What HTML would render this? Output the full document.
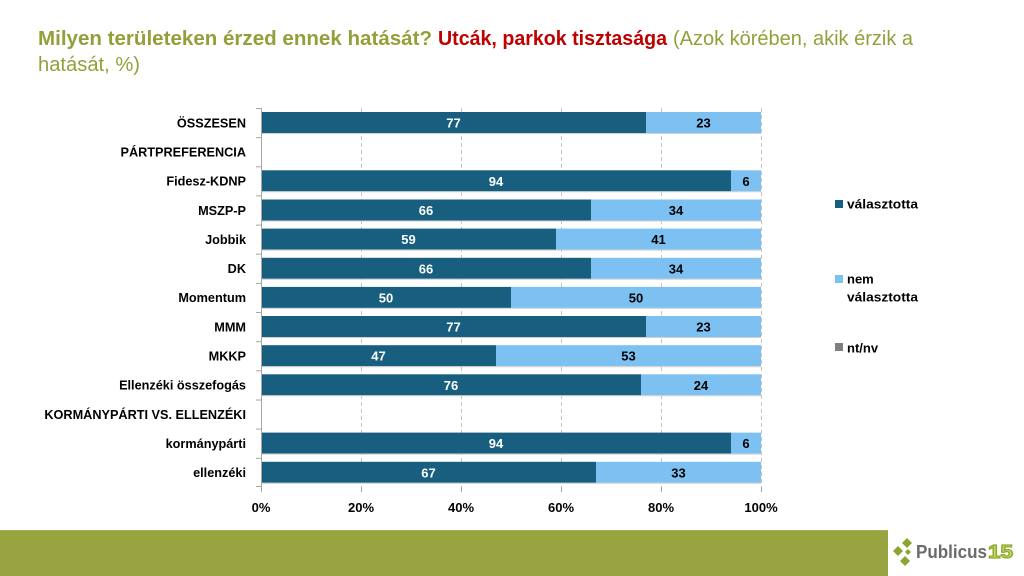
<!DOCTYPE html>
<html><head><meta charset="utf-8"><style>
html,body{margin:0;padding:0;background:#fff;}
svg{display:block;}
text{font-family:"Liberation Sans",sans-serif;}
</style></head><body>
<svg width="1024" height="576" viewBox="0 0 1024 576" xmlns="http://www.w3.org/2000/svg">
<!-- Title -->
<text x="38" y="45" font-size="20" font-weight="bold" fill="#93a03a" textLength="394" lengthAdjust="spacingAndGlyphs">Milyen területeken érzed ennek hatását?</text>
<text x="438" y="45" font-size="20" font-weight="bold" fill="#c00000" textLength="229" lengthAdjust="spacingAndGlyphs">Utcák, parkok tisztasága</text>
<text x="673" y="45" font-size="20" fill="#93a03a" textLength="240" lengthAdjust="spacingAndGlyphs">(Azok körében, akik érzik a</text>
<text x="38" y="71" font-size="20" fill="#93a03a" textLength="102" lengthAdjust="spacingAndGlyphs">hatását, %)</text>

<!-- gridlines -->
<g stroke="#c4c4c4" stroke-width="1" stroke-dasharray="4,3">
<line x1="361.5" y1="108" x2="361.5" y2="487"/>
<line x1="461.5" y1="108" x2="461.5" y2="487"/>
<line x1="561.5" y1="108" x2="561.5" y2="487"/>
<line x1="661.5" y1="108" x2="661.5" y2="487"/>
<line x1="761.5" y1="108" x2="761.5" y2="487"/>
</g>
<!-- bottom ticks -->
<g stroke="#a6a6a6" stroke-width="1">
<line x1="261.5" y1="487" x2="261.5" y2="492"/>
<line x1="361.5" y1="487" x2="361.5" y2="492"/>
<line x1="461.5" y1="487" x2="461.5" y2="492"/>
<line x1="561.5" y1="487" x2="561.5" y2="492"/>
<line x1="661.5" y1="487" x2="661.5" y2="492"/>
<line x1="761.5" y1="487" x2="761.5" y2="492"/>
</g>

<!-- bars -->
<g>
<rect x="261" y="112" width="385" height="21" fill="#175e7f"/><rect x="646" y="112" width="115" height="21" fill="#7cc1f2"/>
<rect x="261" y="170.3" width="470" height="21" fill="#175e7f"/><rect x="731" y="170.3" width="30" height="21" fill="#7cc1f2"/>
<rect x="261" y="199.5" width="330" height="21" fill="#175e7f"/><rect x="591" y="199.5" width="170" height="21" fill="#7cc1f2"/>
<rect x="261" y="228.6" width="295" height="21" fill="#175e7f"/><rect x="556" y="228.6" width="205" height="21" fill="#7cc1f2"/>
<rect x="261" y="257.8" width="330" height="21" fill="#175e7f"/><rect x="591" y="257.8" width="170" height="21" fill="#7cc1f2"/>
<rect x="261" y="286.9" width="250" height="21" fill="#175e7f"/><rect x="511" y="286.9" width="250" height="21" fill="#7cc1f2"/>
<rect x="261" y="316" width="385" height="21" fill="#175e7f"/><rect x="646" y="316" width="115" height="21" fill="#7cc1f2"/>
<rect x="261" y="345.2" width="235" height="21" fill="#175e7f"/><rect x="496" y="345.2" width="265" height="21" fill="#7cc1f2"/>
<rect x="261" y="374.3" width="380" height="21" fill="#175e7f"/><rect x="641" y="374.3" width="120" height="21" fill="#7cc1f2"/>
<rect x="261" y="432.6" width="470" height="21" fill="#175e7f"/><rect x="731" y="432.6" width="30" height="21" fill="#7cc1f2"/>
<rect x="261" y="461.8" width="335" height="21" fill="#175e7f"/><rect x="596" y="461.8" width="165" height="21" fill="#7cc1f2"/>
</g>
<!-- bar bottom shadow lines -->
<g stroke="#d0d0d0" stroke-width="1">
<line x1="261" y1="133.5" x2="761" y2="133.5"/>
<line x1="261" y1="191.8" x2="761" y2="191.8"/>
<line x1="261" y1="221" x2="761" y2="221"/>
<line x1="261" y1="250.1" x2="761" y2="250.1"/>
<line x1="261" y1="279.3" x2="761" y2="279.3"/>
<line x1="261" y1="308.4" x2="761" y2="308.4"/>
<line x1="261" y1="337.5" x2="761" y2="337.5"/>
<line x1="261" y1="366.7" x2="761" y2="366.7"/>
<line x1="261" y1="395.8" x2="761" y2="395.8"/>
<line x1="261" y1="454.1" x2="761" y2="454.1"/>
<line x1="261" y1="483.3" x2="761" y2="483.3"/>
</g>

<!-- left axis -->
<g stroke="#a6a6a6" stroke-width="1">
<line x1="261.5" y1="108" x2="261.5" y2="487"/>
<line x1="256" y1="108.5" x2="261" y2="108.5"/>
<line x1="256" y1="137.6" x2="261" y2="137.6"/>
<line x1="256" y1="166.8" x2="261" y2="166.8"/>
<line x1="256" y1="195.9" x2="261" y2="195.9"/>
<line x1="256" y1="225.1" x2="261" y2="225.1"/>
<line x1="256" y1="254.2" x2="261" y2="254.2"/>
<line x1="256" y1="283.4" x2="261" y2="283.4"/>
<line x1="256" y1="312.5" x2="261" y2="312.5"/>
<line x1="256" y1="341.7" x2="261" y2="341.7"/>
<line x1="256" y1="370.8" x2="261" y2="370.8"/>
<line x1="256" y1="400" x2="261" y2="400"/>
<line x1="256" y1="429.1" x2="261" y2="429.1"/>
<line x1="256" y1="458.3" x2="261" y2="458.3"/>
<line x1="256" y1="486.5" x2="261" y2="486.5"/>
</g>

<!-- value labels -->
<g font-size="13" font-weight="bold" text-anchor="middle">
<text x="453.5" y="127.5" fill="#fff">77</text><text x="703.5" y="127.5" fill="#000">23</text>
<text x="496" y="185.8" fill="#fff">94</text><text x="746" y="185.8" fill="#000">6</text>
<text x="426" y="215" fill="#fff">66</text><text x="676" y="215" fill="#000">34</text>
<text x="408.5" y="244.1" fill="#fff">59</text><text x="658.5" y="244.1" fill="#000">41</text>
<text x="426" y="273.3" fill="#fff">66</text><text x="676" y="273.3" fill="#000">34</text>
<text x="386" y="302.4" fill="#fff">50</text><text x="636" y="302.4" fill="#000">50</text>
<text x="453.5" y="331.5" fill="#fff">77</text><text x="703.5" y="331.5" fill="#000">23</text>
<text x="378.5" y="360.7" fill="#fff">47</text><text x="628.5" y="360.7" fill="#000">53</text>
<text x="451" y="389.8" fill="#fff">76</text><text x="701" y="389.8" fill="#000">24</text>
<text x="496" y="448.1" fill="#fff">94</text><text x="746" y="448.1" fill="#000">6</text>
<text x="428.5" y="477.3" fill="#fff">67</text><text x="678.5" y="477.3" fill="#000">33</text>
</g>

<!-- category labels -->
<g font-size="12.7" font-weight="bold" text-anchor="end" fill="#000">
<text x="246" y="127.3">ÖSSZESEN</text>
<text x="246" y="156.5">PÁRTPREFERENCIA</text>
<text x="246" y="185.6">Fidesz-KDNP</text>
<text x="246" y="214.8">MSZP-P</text>
<text x="246" y="243.9">Jobbik</text>
<text x="246" y="273.1">DK</text>
<text x="246" y="302.2">Momentum</text>
<text x="246" y="331.3">MMM</text>
<text x="246" y="360.5">MKKP</text>
<text x="246" y="389.6">Ellenzéki összefogás</text>
<text x="246" y="418.8">KORMÁNYPÁRTI VS. ELLENZÉKI</text>
<text x="246" y="447.9">kormánypárti</text>
<text x="246" y="477.1">ellenzéki</text>
</g>

<!-- x tick labels -->
<g font-size="13" font-weight="bold" text-anchor="middle" fill="#000">
<text x="261" y="512">0%</text>
<text x="361" y="512">20%</text>
<text x="461" y="512">40%</text>
<text x="561" y="512">60%</text>
<text x="661" y="512">80%</text>
<text x="761" y="512">100%</text>
</g>

<!-- legend -->
<rect x="835" y="200" width="8" height="8" fill="#175e7f"/>
<text x="847" y="208.5" font-size="13" font-weight="bold" textLength="71" lengthAdjust="spacingAndGlyphs">választotta</text>
<rect x="835" y="275" width="8" height="8" fill="#7cc1f2"/>
<text x="847" y="283.5" font-size="13" font-weight="bold">nem</text>
<text x="847" y="301.5" font-size="13" font-weight="bold" textLength="71" lengthAdjust="spacingAndGlyphs">választotta</text>
<rect x="835" y="343" width="8" height="8" fill="#7f7f7f"/>
<text x="847" y="352.5" font-size="13" font-weight="bold">nt/nv</text>

<!-- footer band -->
<rect x="0" y="530" width="888" height="46" fill="#98a43f"/>
<rect x="0" y="530" width="888" height="1" fill="#a5b050"/>

<!-- logo -->
<g fill="#8aa534">
<polygon points="907,538 912,543 907,548 902,543"/>
<polygon points="898,546 903,551 898,556 893,551"/>
<polygon points="908,549 911,552 908,555 905,552"/>
<polygon points="905,556 910,561 905,566 900,561"/>
</g>
<text x="916" y="558" font-size="18" font-weight="bold" fill="#6b6b6b" textLength="71" lengthAdjust="spacingAndGlyphs">Publicus</text>
<text x="988" y="558" font-size="18" font-weight="bold" fill="#c6d96a" stroke="#8aab2c" stroke-width="1.2" textLength="25" lengthAdjust="spacingAndGlyphs">15</text>
</svg>
</body></html>
